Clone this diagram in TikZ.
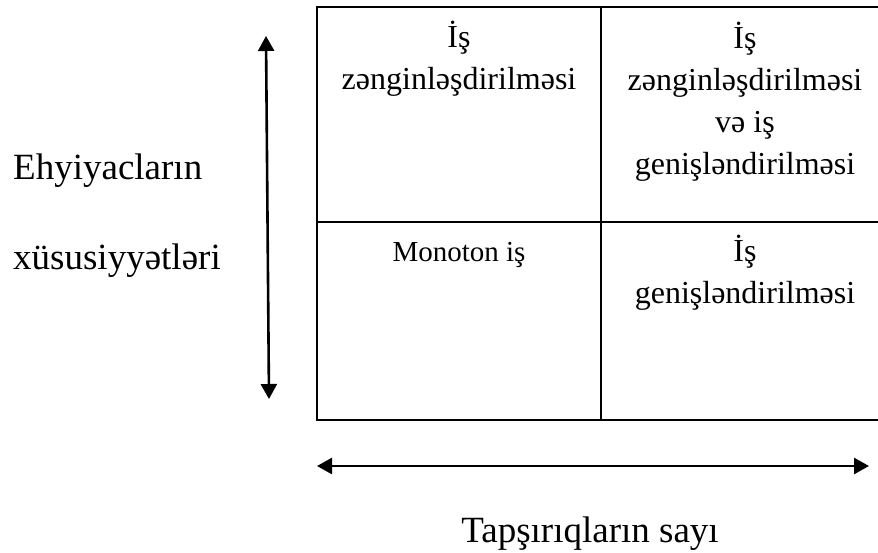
\documentclass[tikz,border=0pt]{standalone}
\usepackage{fontspec}
\setmainfont{Liberation Serif}
\usetikzlibrary{arrows.meta}
\tikzset{
  gridline/.style={line width=2.2pt, black},
  axisarrow/.style={line width=2.6pt, black, {Triangle[length=15pt,width=16pt]}-{Triangle[length=15pt,width=16pt]}},
  celltext/.style={anchor=base, align=center, inner sep=0pt, font=\fontsize{32}{42.3}\selectfont},
  smalltext/.style={anchor=base, align=center, inner sep=0pt, font=\fontsize{29}{35}\selectfont},
  labeltext/.style={anchor=base west, inner sep=0pt, font=\fontsize{37}{44}\selectfont}
}
\begin{document}
\begin{tikzpicture}[x=1pt, y=-1pt]
\fill[white] (0,0) rectangle (878,553);
\clip (0,0) rectangle (878,553);
% grid
\coordinate (g1) at (317,7);
\coordinate (g2) at (889,420);
\draw[gridline] (g1) rectangle (g2);
\coordinate (vt) at (601,7);
\coordinate (vb) at (601,420);
\coordinate (hl) at (317,222);
\coordinate (hr) at (889,222);
\draw[gridline] (vt) -- (vb);
\draw[gridline] (hl) -- (hr);
% cell texts (base anchor = baseline of last line)
\node[celltext] (tl) at (459,90) {İş\\zənginləşdirilməsi};
\node[celltext] (tr) at (745,175) {İş\\zənginləşdirilməsi\\və iş\\genişləndirilməsi};
\node[smalltext] (bl) at (459,262) {Monoton iş};
\node[celltext] (br) at (745,304) {İş\\genişləndirilməsi};
% axes
\coordinate (va) at (266,36);
\coordinate (vz) at (269,399);
\draw[axisarrow] (va) -- (vz);
\coordinate (ha) at (317,466);
\coordinate (hz) at (869,466);
\draw[axisarrow] (ha) -- (hz);
% labels
\node[labeltext] (l1) at (13,180) {Ehyiyacların};
\node[labeltext] (l2) at (13,270) {xüsusiyyətləri};
\node[anchor=base, inner sep=0pt, font=\fontsize{37}{44}\selectfont] (l3) at (590,542) {Tapşırıqların sayı};
\end{tikzpicture}
\end{document}
